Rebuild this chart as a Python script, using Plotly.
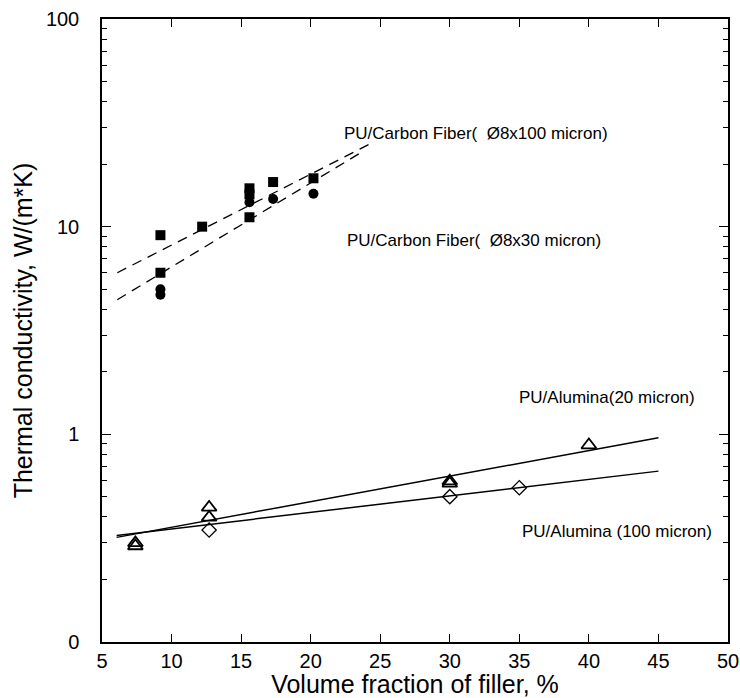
import plotly.graph_objects as go

# ---- data ----
cf100_x = [9.2, 9.2, 12.2, 15.6, 15.6, 15.6, 17.3, 20.2]
cf100_y = [9.1, 6.0, 10.0, 15.3, 14.3, 11.1, 16.4, 17.1]
cf30_x = [9.2, 9.2, 15.6, 17.3, 20.2]
cf30_y = [5.0, 4.7, 13.1, 13.6, 14.4]
cf100_fit_x = [6.1, 24.3]
cf100_fit_y = [6.0, 25.1]
cf30_fit_x = [6.1, 23.5]
cf30_fit_y = [4.45, 22.5]

al20_x = [7.4, 7.4, 12.7, 12.7, 30.0, 30.0, 40.0]
al20_y = [0.29, 0.30, 0.445, 0.398, 0.58, 0.595, 0.888]
al100_x = [12.7, 30.0, 35.0]
al100_y = [0.346, 0.501, 0.553]
al20_fit_x = [6.05, 45.0]
al20_fit_y = [0.319, 0.963]
al100_fit_x = [6.05, 45.0]
al100_fit_y = [0.326, 0.665]

x_ticks = [5, 10, 15, 20, 25, 30, 35, 40, 45, 50]
y_tickvals = [0.1, 1, 10, 100]
y_ticktext = ["0", "1", "10", "100"]

FONT = "Liberation Sans, Arial, sans-serif"

fig = go.Figure()

fig.add_trace(go.Scatter(x=cf100_fit_x, y=cf100_fit_y, mode="lines",
                         line=dict(color="black", width=1.3, dash="10px,7px"),
                         showlegend=False, hoverinfo="skip"))
fig.add_trace(go.Scatter(x=cf30_fit_x, y=cf30_fit_y, mode="lines",
                         line=dict(color="black", width=1.3, dash="10px,7px"),
                         showlegend=False, hoverinfo="skip"))
fig.add_trace(go.Scatter(x=al20_fit_x, y=al20_fit_y, mode="lines",
                         line=dict(color="black", width=1.5),
                         showlegend=False, hoverinfo="skip"))
fig.add_trace(go.Scatter(x=al100_fit_x, y=al100_fit_y, mode="lines",
                         line=dict(color="black", width=1.5),
                         showlegend=False, hoverinfo="skip"))

fig.add_trace(go.Scatter(x=cf100_x, y=cf100_y, mode="markers", name="PU/Carbon Fiber 8x100",
                         marker=dict(symbol="square", size=10, color="black"),
                         showlegend=False))
fig.add_trace(go.Scatter(x=cf30_x, y=cf30_y, mode="markers", name="PU/Carbon Fiber 8x30",
                         marker=dict(symbol="circle", size=10, color="black"),
                         showlegend=False))
fig.add_trace(go.Scatter(x=al20_x, y=al20_y, mode="markers", name="PU/Alumina 20",
                         marker=dict(symbol="triangle-up-open", size=13, color="black",
                                     line=dict(width=1.8, color="black")),
                         showlegend=False))
fig.add_trace(go.Scatter(x=al100_x, y=al100_y, mode="markers", name="PU/Alumina 100",
                         marker=dict(symbol="diamond-open", size=11, color="black",
                                     line=dict(width=1.3, color="black")),
                         showlegend=False))

labels = [
    ("PU/Carbon Fiber(  Ø8x100 micron)", 0.383, 0.817),
    ("PU/Carbon Fiber(  Ø8x30 micron)", 0.388, 0.645),
    ("PU/Alumina(20 micron)", 0.663, 0.393),
    ("PU/Alumina (100 micron)", 0.667, 0.177),
]
for txt, xp, yp in labels:
    fig.add_annotation(text=txt, x=xp, y=yp, xref="paper", yref="paper",
                       xanchor="left", yanchor="middle", showarrow=False,
                       font=dict(family=FONT, size=17, color="black"))

fig.update_xaxes(
    range=[5, 50], tickvals=x_ticks, ticks="inside", ticklen=8, tickwidth=1.3,
    tickcolor="black", showline=True, linecolor="black", linewidth=1.5,
    mirror="allticks", showgrid=False, zeroline=False,
    tickfont=dict(family=FONT, size=20, color="black"), ticklabelstandoff=0,
    title=dict(text="Volume fraction of filler, %", standoff=3,
               font=dict(family=FONT, size=25, color="black")),
)
fig.update_yaxes(
    type="log", range=[-1, 2], tickvals=y_tickvals, ticktext=y_ticktext,
    ticks="inside", ticklen=9, tickwidth=1.3, tickcolor="black",
    minor=dict(ticks="inside", ticklen=5, tickcolor="black", tickwidth=1,
               tickvals=[v * 10 ** d for d in (-1, 0, 1) for v in range(2, 10)]),
    showline=True, linecolor="black", linewidth=1.5, mirror="allticks",
    showgrid=False, zeroline=False,
    tickfont=dict(family=FONT, size=20, color="black"), ticklabelstandoff=17,
    title=dict(text="Thermal conductivity, W/(m*K)", standoff=6,
               font=dict(family=FONT, size=25, color="black")),
)

fig.update_layout(
    width=740, height=698,
    margin=dict(l=102, r=12, t=19, b=56, autoexpand=False),
    plot_bgcolor="white", paper_bgcolor="white",
    font=dict(family=FONT, color="black"),
)

fig.write_html("out.html", config={"displayModeBar": False},
               post_script="document.body.style.margin='0px';")
